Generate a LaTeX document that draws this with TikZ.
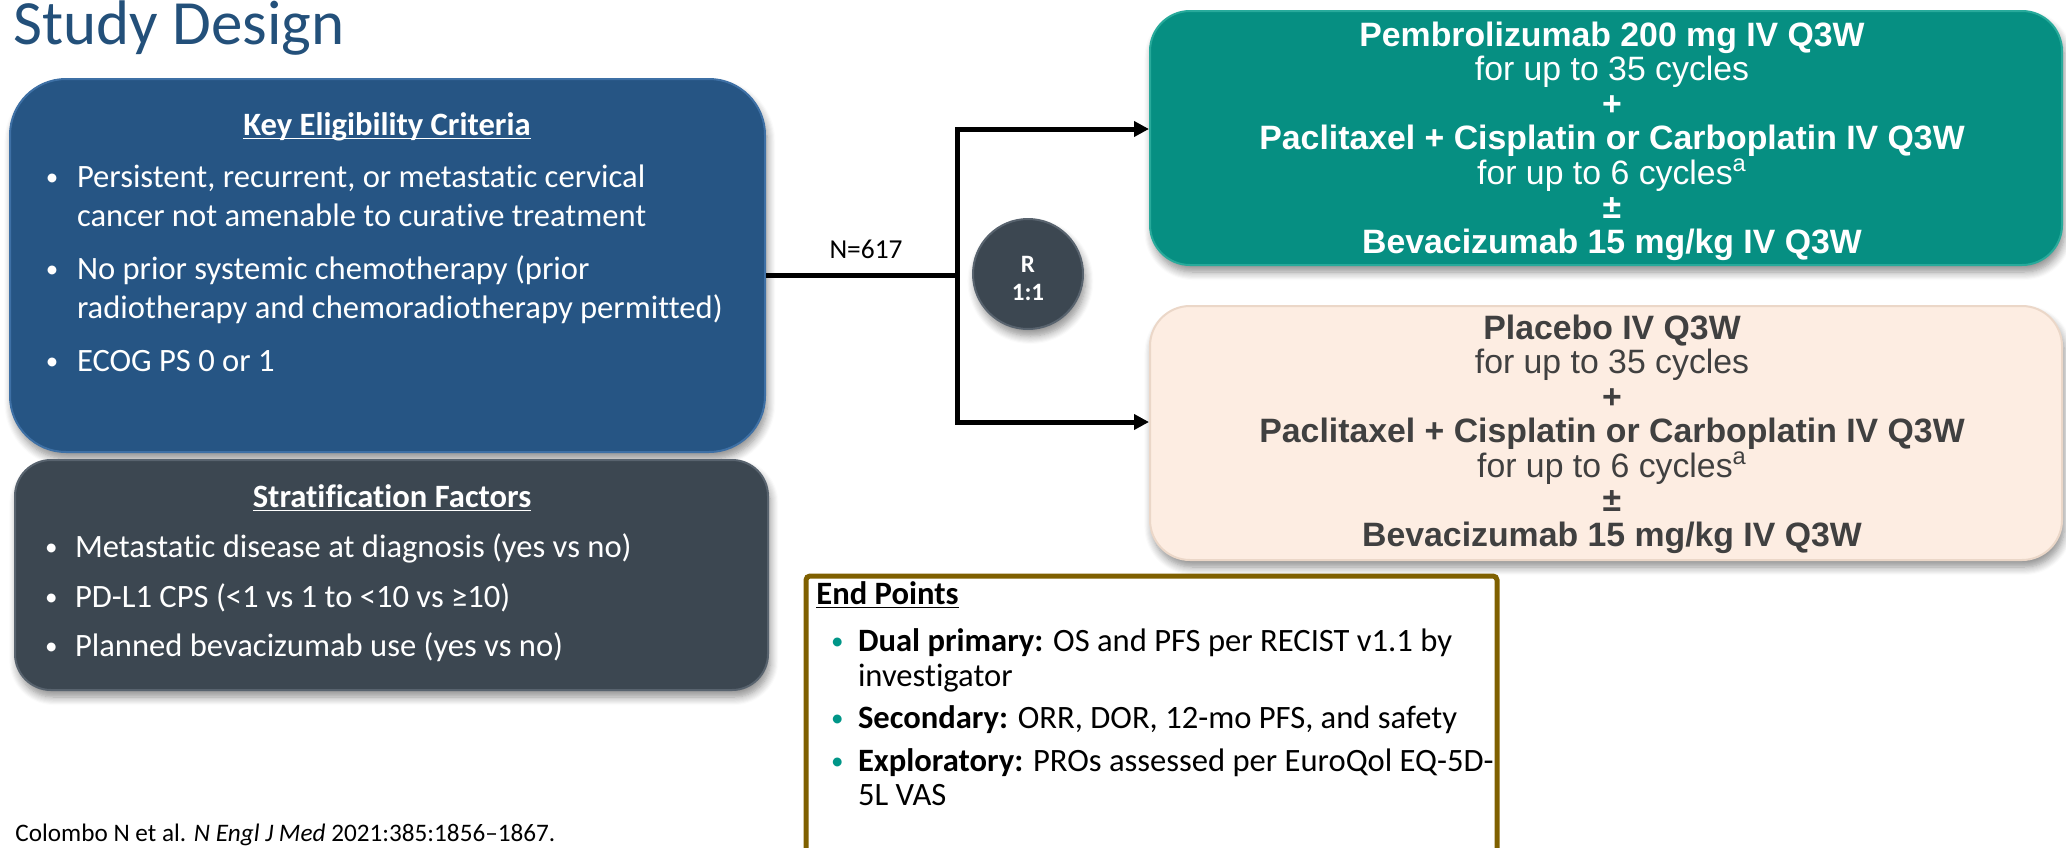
\documentclass[tikz,border=0pt]{standalone}
\usepackage{fontspec}
\setmainfont{Carlito}[Ligatures=NoCommon]
\newfontfamily\arialf{Liberation Sans}
\usetikzlibrary{arrows.meta,shadows.blur}
\definecolor{titleblue}{RGB}{35,80,122}
\definecolor{eligblue}{RGB}{38,85,132}
\definecolor{eligedge}{RGB}{62,112,165}
\definecolor{slate}{RGB}{60,71,81}
\definecolor{slateedge}{RGB}{88,99,110}
\definecolor{armteal}{RGB}{6,143,130}
\definecolor{armtealedge}{RGB}{40,170,155}
\definecolor{peach}{RGB}{253,237,226}
\definecolor{peachedge}{RGB}{235,215,200}
\definecolor{peachtext}{RGB}{64,64,64}
\definecolor{endbrown}{RGB}{127,96,0}
\definecolor{bullteal}{RGB}{0,150,136}
\begin{document}
\begin{tikzpicture}[x=0.5pt,y=-0.5pt,
  >={Triangle[length=7.5pt,width=7.5pt]},
  softshadow/.style={blur shadow={shadow xshift=1.2pt, shadow yshift=-3.5pt, shadow blur steps=8, shadow blur radius=4pt, shadow opacity=45}},
  panel/.style={rectangle, inner sep=0pt, line width=1pt, softshadow},
  body/.style={inner sep=0pt, outer sep=0pt, anchor=base west, font=\fontsize{16.3}{19}\selectfont},
  bul/.style={inner sep=0pt, outer sep=0pt, anchor=base west, font=\fontsize{12.5}{15}\selectfont},
  head/.style={inner sep=0pt, outer sep=0pt, anchor=base, font=\bfseries\fontsize{16.3}{19}\selectfont},
  armreg/.style={inner sep=0pt, outer sep=0pt, anchor=base, font=\arialf\fontsize{16.9}{19}\selectfont},
  armbold/.style={inner sep=0pt, outer sep=0pt, anchor=base, font=\arialf\bfseries\fontsize{16.9}{19}\selectfont},
  conn/.style={line width=2.5pt, line join=miter}
]
\useasboundingbox (0,0) rectangle (2066,847);
\clip (0,0) rectangle (2066,847);

% title
\node[inner sep=0pt, anchor=base west, text=titleblue, font=\fontsize{31.5}{36}\selectfont] (title) at (13,44) {Study Design};

% eligibility box
\node[panel, fill=eligblue, draw=eligedge, rounded corners=28pt, minimum width=377.5pt, minimum height=186.5pt] (elig) at (387.5,265.5) {};
\node[head, text=white] (eligT) at (387,135) {Key Eligibility Criteria};
\draw[white, line width=0.9pt] ([yshift=-1.7pt]eligT.base west) -- ([yshift=-1.7pt]eligT.base east);
\begin{scope}[every node/.style={body, text=white}]
\node[bul] (e1b) at (46,185) {•};
\node (e1a) at (77,187) {Persistent, recurrent, or metastatic cervical};
\node (e1c) at (77,226) {cancer not amenable to curative treatment};
\node[bul] (e2b) at (46,277) {•};
\node (e2a) at (77,279) {No prior systemic chemotherapy (prior};
\node (e2c) at (77,318) {radiotherapy and chemoradiotherapy permitted)};
\node[bul] (e3b) at (46,369) {•};
\node (e3a) at (77,371) {ECOG PS 0 or 1};
\end{scope}

% stratification box
\node[panel, fill=slate, draw=slateedge, rounded corners=18pt, minimum width=376.5pt, minimum height=115pt] (strat) at (391.5,575) {};
\node[head, text=white] (stratT) at (392,507) {Stratification Factors};
\draw[white, line width=0.9pt] ([yshift=-1.7pt]stratT.base west) -- ([yshift=-1.7pt]stratT.base east);
\begin{scope}[every node/.style={body, text=white}]
\node[bul] (s1b) at (45,555) {•};
\node (s1a) at (75,557) {Metastatic disease at diagnosis (yes vs no)};
\node[bul] (s2b) at (45,605) {•};
\node (s2a) at (75,607) {PD-L1 CPS (<1 vs 1 to <10 vs ≥10)};
\node[bul] (s3b) at (45,654) {•};
\node (s3a) at (75,656) {Planned bevacizumab use (yes vs no)};
\end{scope}

% citation
\node[inner sep=0pt, anchor=base west, font=\fontsize{12.6}{15}\selectfont] (cite) at (15,841) {Colombo N et al. \textit{N Engl J Med} 2021:385:1856–1867.};

% arm boxes
\node[panel, fill=armteal, draw=armtealedge, rounded corners=20pt, minimum width=456pt, minimum height=127pt] (pembro) at (1606,138) {};
\node[panel, fill=peach, draw=peachedge, rounded corners=20pt, minimum width=456pt, minimum height=127pt] (placebo) at (1606,433) {};

\begin{scope}[every node/.append style={text=white}]
\node[armbold] (p1) at (1612,46) {Pembrolizumab 200 mg IV Q3W};
\node[armreg]  (p2) at (1612,80.5) {for up to 35 cycles};
\node[armbold] (p3) at (1612,115) {+};
\node[armbold] (p4) at (1612,149.5) {Paclitaxel + Cisplatin or Carboplatin IV Q3W};
\node[armreg]  (p5) at (1612,184) {for up to 6 cycles\textsuperscript{a}};
\node[armbold] (p6) at (1612,218.5) {±};
\node[armbold] (p7) at (1612,253) {Bevacizumab 15 mg/kg IV Q3W};
\end{scope}
\begin{scope}[every node/.append style={text=peachtext}]
\node[armbold] (q1) at (1612,339) {Placebo IV Q3W};
\node[armreg]  (q2) at (1612,373.5) {for up to 35 cycles};
\node[armbold] (q3) at (1612,408) {+};
\node[armbold] (q4) at (1612,442.5) {Paclitaxel + Cisplatin or Carboplatin IV Q3W};
\node[armreg]  (q5) at (1612,477) {for up to 6 cycles\textsuperscript{a}};
\node[armbold] (q6) at (1612,511.5) {±};
\node[armbold] (q7) at (1612,546) {Bevacizumab 15 mg/kg IV Q3W};
\end{scope}

% randomization
\node[circle, fill=slate, draw=slateedge, line width=1pt, minimum size=55pt, inner sep=0pt, softshadow] (rand) at (1028,274) {};
\node[head, text=white, font=\bfseries\fontsize{12.5}{14}\selectfont] (randR) at (1028,272) {R};
\node[head, text=white, font=\bfseries\fontsize{12.5}{14}\selectfont] (rand11) at (1028,300) {1:1};

% connectors
\coordinate (jm) at (957,275);
\coordinate (jt) at (957,129);
\coordinate (jb) at (957,422);
\draw[conn] (elig.east |- jm) -- (jm);
\draw[conn, <->] (pembro.west |- jt) -- (jt) -- (jb) -- (placebo.west |- jb);
\node[inner sep=0pt, anchor=base, font=\fontsize{13.7}{16}\selectfont] (nlabel) at (866,258) {N=617};

% end points
\node[rectangle, draw=endbrown, line width=2.5pt, rounded corners=2pt, fill=white, minimum width=345.5pt, minimum height=160pt] (endbox) at (1151.5,736) {};
\node[inner sep=0pt, anchor=base west, font=\bfseries\fontsize{16.3}{19}\selectfont] (endT) at (816,604) {End Points};
\draw[black, line width=0.9pt] ([yshift=-1.7pt]endT.base west) -- ([yshift=-1.7pt]endT.base east);
\node[bul, text=bullteal] (d1b) at (831,649) {•};
\node[body] (d1a) at (858,651) {\textbf{Dual primary:} OS and PFS per RECIST v1.1 by};
\node[body] (d1c) at (858,686) {investigator};
\node[bul, text=bullteal] (d2b) at (831,726) {•};
\node[body] (d2a) at (858,728) {\textbf{Secondary:} ORR, DOR, 12-mo PFS, and safety};
\node[bul, text=bullteal] (d3b) at (831,769) {•};
\node[body] (d3a) at (858,771) {\textbf{Exploratory:} PROs assessed per EuroQol EQ-5D-};
\node[body] (d3c) at (858,805) {5L VAS};
\end{tikzpicture}
\end{document}
